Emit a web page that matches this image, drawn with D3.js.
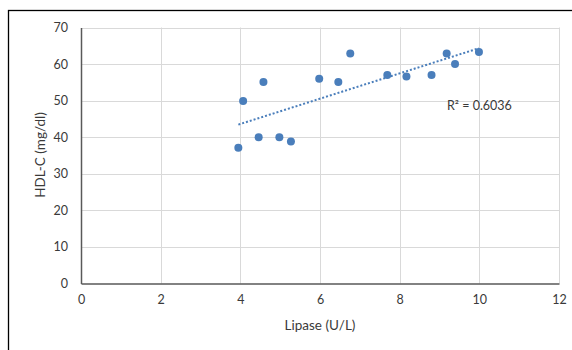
<!DOCTYPE html>
<html>
<head>
<meta charset="utf-8">
<script src="https://cdn.jsdelivr.net/npm/d3@7"></script>
<style>
  body { margin: 0; background: #fff; }
  text { font-family: Lato, "Open Sans", sans-serif; }
</style>
</head>
<body>
<div id="chart"></div>
<script>
// Lipase (U/L) vs HDL-C (mg/dl)
const lipase = [3.95, 4.07, 4.58, 4.46, 4.98, 5.27, 5.98, 6.46, 6.76, 7.69, 8.17, 8.80, 9.18, 9.39, 9.99];
const hdl    = [37.1, 49.9, 55.1, 40.0, 40.0, 38.8, 56.0, 55.1, 62.9, 57.0, 56.6, 57.0, 62.9, 60.0, 63.3];
const xTicks = [0, 2, 4, 6, 8, 10, 12];
const yTicks = [0, 10, 20, 30, 40, 50, 60, 70];
const rLabel = "R² = 0.6036";

const width = 572, height = 350;
const plotLeft = 81, plotRight = 559, plotTop = 27.5, plotBottom = 283.5;
const blue = "#4a7ebb";
const ink = "#3a3a3a";

const svg = d3.select("#chart").append("svg")
    .attr("width", width)
    .attr("height", height);

// outer frame
svg.append("rect")
    .attr("x", 8.5).attr("y", 10.5)
    .attr("width", 700).attr("height", 500)
    .attr("fill", "none")
    .attr("stroke", "#000")
    .attr("stroke-width", 1.3);

const x = d3.scaleLinear().domain([0, 12]).range([plotLeft, plotRight]);
const y = d3.scaleLinear().domain([0, 70]).range([plotBottom, plotTop]);

// grid
svg.append("g").selectAll("line").data(yTicks.slice(1)).enter().append("line")
    .attr("x1", plotLeft).attr("x2", plotRight)
    .attr("y1", d => Math.round(y(d)) + 0.5).attr("y2", d => Math.round(y(d)) + 0.5)
    .attr("stroke", "#d9d9d9").attr("stroke-width", 1);
svg.append("g").selectAll("line").data(xTicks.slice(1)).enter().append("line")
    .attr("y1", plotTop).attr("y2", plotBottom)
    .attr("x1", d => Math.round(x(d)) + 0.5).attr("x2", d => Math.round(x(d)) + 0.5)
    .attr("stroke", "#d9d9d9").attr("stroke-width", 1);

// axes
const xAxis = d3.axisBottom(x).tickValues(xTicks).tickSize(0).tickPadding(12);
const yAxis = d3.axisLeft(y).tickValues(yTicks).tickSize(0).tickPadding(13);

const gx = svg.append("g").attr("transform", "translate(0," + plotBottom + ")").call(xAxis);
const gy = svg.append("g").attr("transform", "translate(" + plotLeft + ",0)").call(yAxis);
[gx, gy].forEach(g => {
  g.select(".domain").attr("stroke", "#595959").attr("stroke-width", 1.5);
  g.selectAll("text").attr("font-size", 12.5).attr("fill", ink)
    .style("font-family", "Lato, sans-serif");
});

// axis titles
svg.append("text")
    .attr("x", 320).attr("y", 330)
    .attr("text-anchor", "middle")
    .attr("font-size", 13.5).attr("fill", ink)
    .text("Lipase (U/L)");
svg.append("text")
    .attr("transform", "translate(45,155) rotate(-90)")
    .attr("text-anchor", "middle")
    .attr("font-size", 13.5).attr("fill", ink)
    .text("HDL-C (mg/dl)");

// linear trendline (least squares)
const mx = d3.mean(lipase), my = d3.mean(hdl);
let sxy = 0, sxx = 0;
lipase.forEach((v, i) => { sxy += (v - mx) * (hdl[i] - my); sxx += (v - mx) * (v - mx); });
const slope = sxy / sxx, icpt = my - slope * mx;
const x0 = d3.min(lipase), x1 = d3.max(lipase);

svg.append("line")
    .attr("x1", x(x0)).attr("y1", y(icpt + slope * x0))
    .attr("x2", x(x1)).attr("y2", y(icpt + slope * x1))
    .attr("stroke", blue)
    .attr("stroke-width", 2)
    .attr("stroke-dasharray", "2,2");

// points
svg.append("g").selectAll("circle").data(lipase).enter().append("circle")
    .attr("cx", d => x(d))
    .attr("cy", (d, i) => y(hdl[i]))
    .attr("r", 4)
    .attr("fill", blue);

svg.append("text")
    .attr("x", 447).attr("y", 110)
    .attr("font-size", 12.5).attr("fill", ink)
    .text(rLabel);
</script>
</body>
</html>
